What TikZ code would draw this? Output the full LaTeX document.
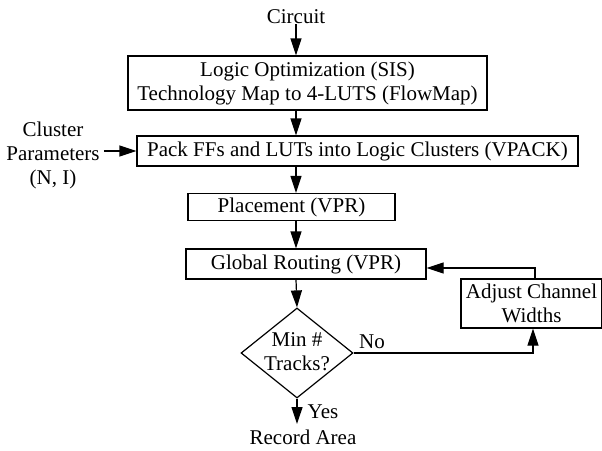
\documentclass[tikz,border=0pt]{standalone}
\usepackage{fontspec}
\setmainfont{Liberation Serif}
\usetikzlibrary{arrows.meta,shapes.geometric}
\begin{document}
\begin{tikzpicture}[x=1pt,y=-1pt,
  every node/.style={font=\fontsize{21}{24}\selectfont, inner sep=0pt},
  box/.style={draw, line width=1.2pt, align=center},
  conn/.style={line width=1.2pt, -{Triangle[length=17pt,width=11pt]}},
  plain/.style={line width=1.2pt}]
\useasboundingbox (0,0) rectangle (602,450);
\node (circ) at (296,17) {Circuit};
\node[box, minimum width=359pt, minimum height=54pt] (b1) at (307.5,83) {Logic Optimization (SIS)\\Technology Map to 4-LUTS (FlowMap)};
\node[box, minimum width=441pt, minimum height=30pt] (b2) at (357.5,151) {Pack FFs and LUTs into Logic Clusters (VPACK)};
\node[align=center] (cp) at (53,155) {Cluster\\Parameters\\(N, I)};
\node[box, minimum width=207pt, minimum height=27pt] (pl) at (291.5,207) {Placement (VPR)};
\node[box, minimum width=240pt, minimum height=30pt] (gr) at (306,264) {Global Routing (VPR)};
\node[box, minimum width=141pt, minimum height=49pt] (adj) at (531.5,303.5) {Adjust Channel\\Widths};
\node[draw, diamond, line width=1.2pt, minimum width=112pt, minimum height=90pt, aspect=1.24] (dec) at (297,353) {};
\node[align=center] (dect) at (297,352) {Min \#\\Tracks?};
\node[anchor=base] (rec) at (303,444) {Record Area};
\coordinate (recin) at (297,424);
\node (no) at (372,342) {No};
\node (yes) at (323,412) {Yes};
\coordinate (turn1) at (533,353);
\coordinate (turn2) at (535,268);

\draw[conn] (circ) -- (circ |- b1.north);
\draw[conn] (circ |- b1.south) -- (circ |- b2.north);
\draw[conn] (circ |- b2.south) -- (circ |- pl.north);
\draw[conn] (circ |- pl.south) -- (circ |- gr.north);
\draw[conn] (circ |- gr.south) -- (dec.north);
\draw[conn] (dec.south) -- (recin);
\draw[conn] (cp.east |- b2.west) ++(4,0) -- (b2.west);
\draw[conn] (dec.east) -- (turn1) -- (turn1 |- adj.south);
\draw[conn] (turn2 |- adj.north) -- (turn2) -- (gr.east |- turn2);
\end{tikzpicture}
\end{document}
